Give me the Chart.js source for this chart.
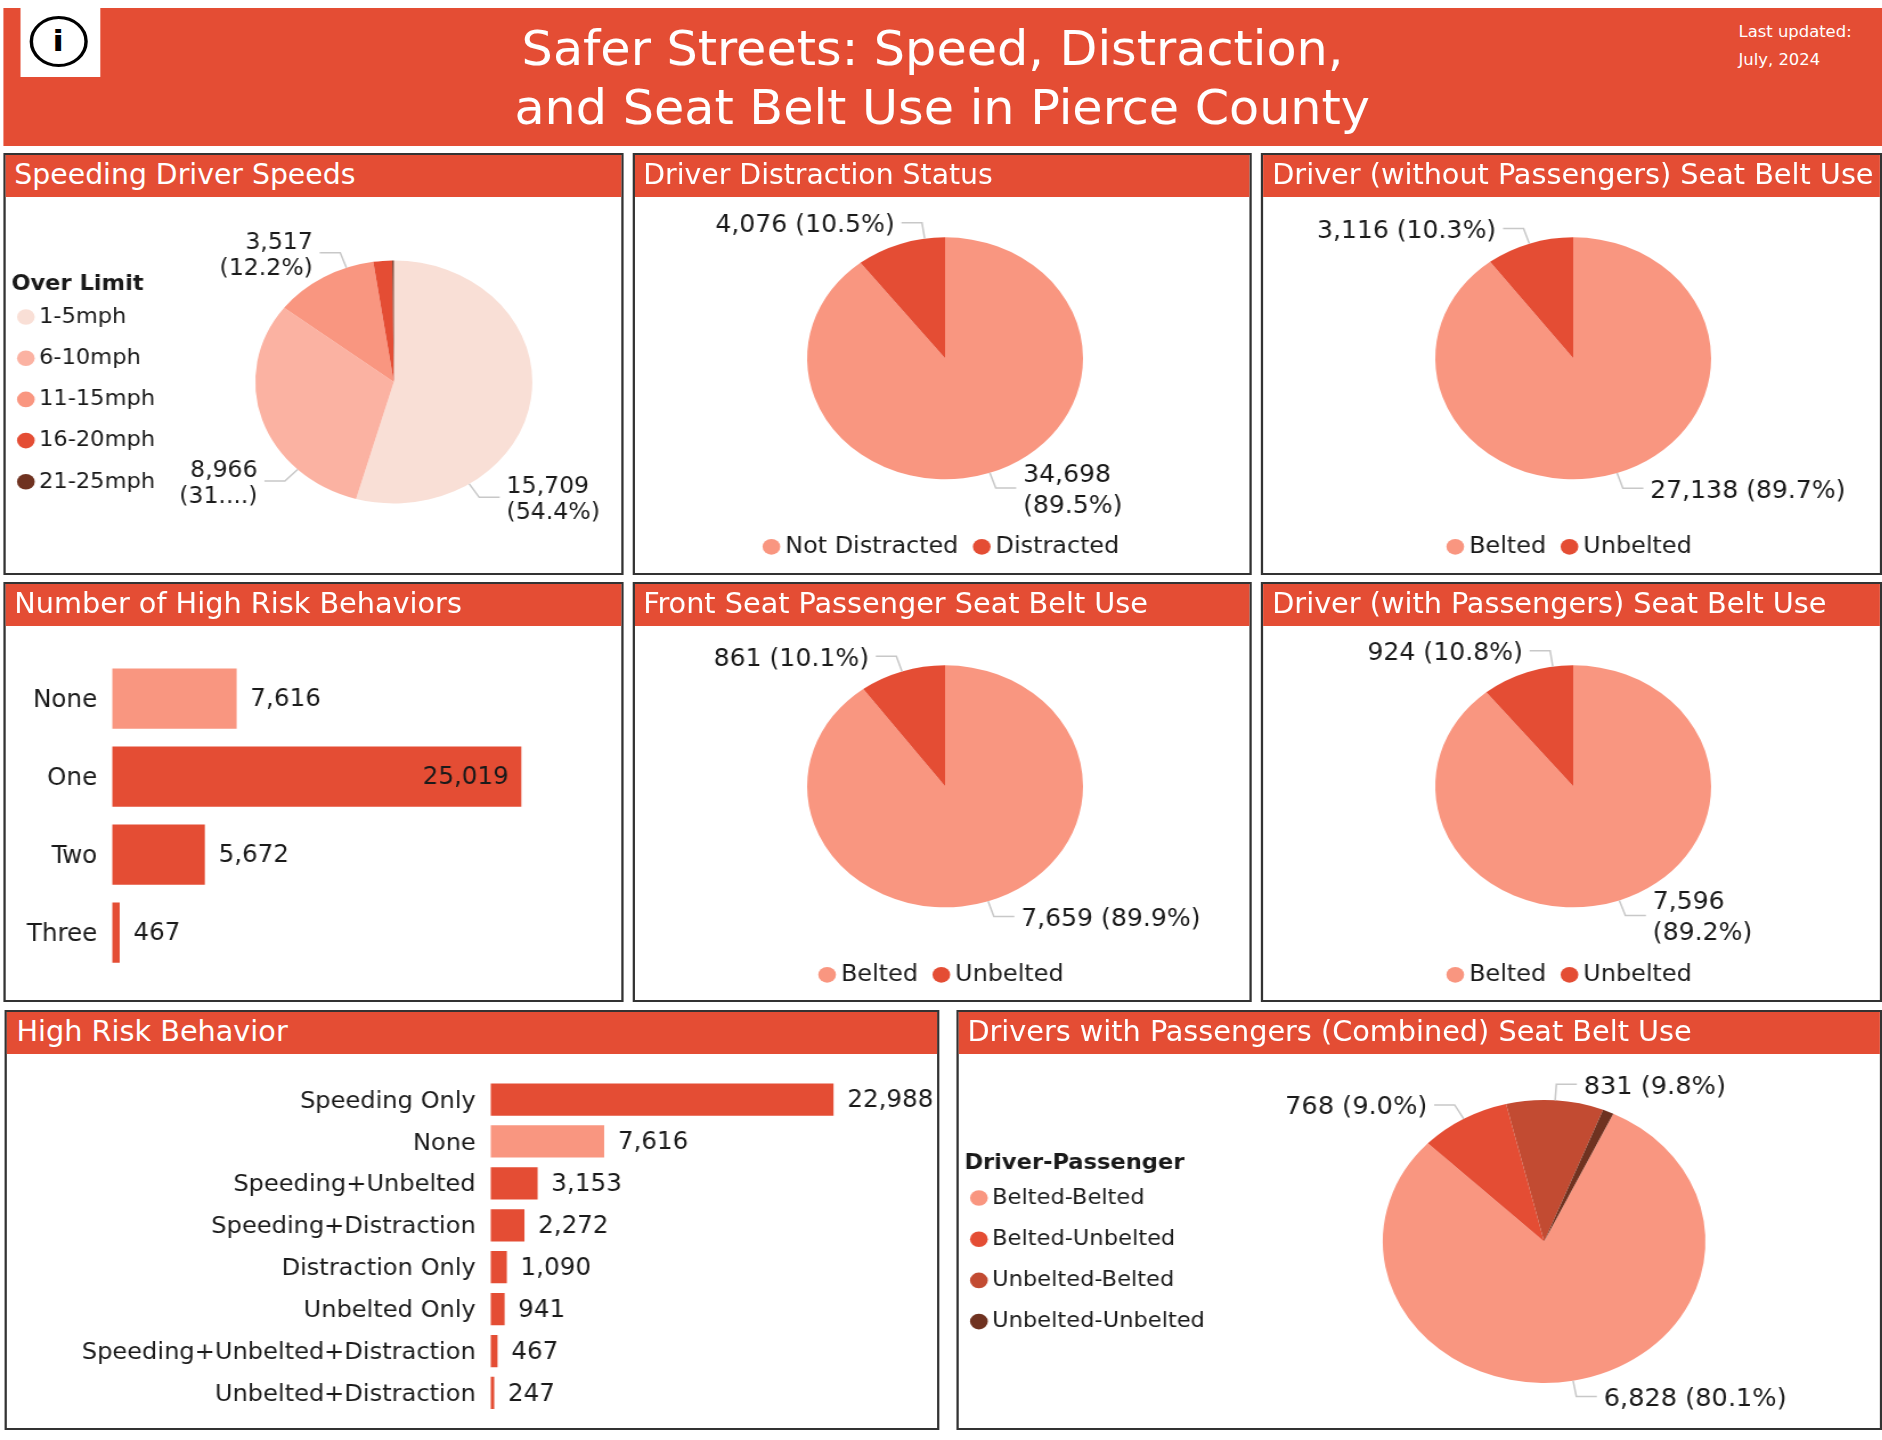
<!DOCTYPE html>
<html>
<head>
<meta charset="utf-8">
<title>Safer Streets</title>
<script src="https://cdn.jsdelivr.net/npm/chart.js@4"></script>
<style>
  html, body { margin: 0; padding: 0; background: #fff; overflow: hidden; }
  /* the original dashboard is stretched sideways, pies come out as ovals */
  #page {
    position: absolute; left: 0; top: 0; width: 1651px; height: 1440px;
    transform: scaleX(1.14); transform-origin: 0 0;
    font-family: "DejaVu Sans Condensed", "DejaVu Sans", sans-serif; color: #1a1a1a;
  }
  #banner { position: absolute; left: 2.6px; right: 0; top: 8px; height: 138px; background: #e44d34; }
  .title { position: absolute; left: 0; text-align: center; color: #fff; font-size: 48px; line-height: 60px; white-space: nowrap; }
  #line1 { top: 18px; width: 1636px; }
  #line2 { top: 77px; width: 1653px; }
  .updated { position: absolute; left: 1525px; color: #fff; font-size: 16px; line-height: 20px; white-space: nowrap; }
  #info { position: absolute; left: 17.5px; top: 8px; width: 70px; height: 69px; background: #fff; }
  #info div {
    position: absolute; left: 8px; top: 8px; width: 45px; height: 45px; border: 3.5px solid #000; border-radius: 50%;
    text-align: center; font: bold 29px/45px "DejaVu Sans", sans-serif; color: #000;
  }
  .panel { position: absolute; box-sizing: border-box; border: 2px solid #333; background: #fff; }
  .head {
    position: absolute; left: 0; right: 0; top: 0; height: 42px; background: #e44d34; color: #fff;
    font-size: 28px; line-height: 40px; padding-left: 8px; white-space: nowrap; overflow: hidden;
  }
  canvas { position: absolute; }
</style>
</head>
<body>
<div id="page">
  <div id="banner"></div>
  <div id="info"><div>i</div></div>
  <div class="title" id="line1">Safer Streets: Speed, Distraction,</div>
  <div class="title" id="line2">and Seat Belt Use in Pierce County</div>
  <div class="updated" style="top:22px">Last updated:</div>
  <div class="updated" style="top:50px">July, 2024</div>

  <div class="panel" style="left:2.6px;top:153px;width:544px;height:422px"><div class="head" style="font-size:27.6px">Speeding Driver Speeds</div></div>
  <div class="panel" style="left:555.3px;top:153px;width:543px;height:422px"><div class="head" style="font-size:27.6px;padding-left:7px">Driver Distraction Status</div></div>
  <div class="panel" style="left:1106px;top:153px;width:545px;height:422px"><div class="head">Driver (without Passengers) Seat Belt Use</div></div>
  <div class="panel" style="left:2.6px;top:582px;width:544px;height:420px"><div class="head">Number of High Risk Behaviors</div></div>
  <div class="panel" style="left:555.3px;top:582px;width:543px;height:420px"><div class="head" style="padding-left:7px">Front Seat Passenger Seat Belt Use</div></div>
  <div class="panel" style="left:1106px;top:582px;width:545px;height:420px"><div class="head">Driver (with Passengers) Seat Belt Use</div></div>
  <div class="panel" style="left:4.4px;top:1010px;width:820px;height:420px"><div class="head" style="line-height:39px">High Risk Behavior</div></div>
  <div class="panel" style="left:838.6px;top:1010px;width:812px;height:420px"><div class="head" style="line-height:39px">Drivers with Passengers (Combined) Seat Belt Use</div></div>

  <canvas id="speeds" style="left:3.3px;top:198px"></canvas>
  <canvas id="distraction" style="left:578.6px;top:192px"></canvas>
  <canvas id="noPassengers" style="left:1130.4px;top:192px"></canvas>
  <canvas id="riskCount" style="left:2.6px;top:626px"></canvas>
  <canvas id="frontSeat" style="left:578.6px;top:620px"></canvas>
  <canvas id="withPassengers" style="left:1130.4px;top:620px"></canvas>
  <canvas id="riskBehavior" style="left:4.4px;top:1048px"></canvas>
  <canvas id="combined" style="left:839px;top:1053px"></canvas>
</div>

<script>
// data
const speedCats = ['1-5mph', '6-10mph', '11-15mph', '16-20mph', '21-25mph'];
const speedVals = [15709, 8966, 3517, 635, 50];
const speedText = [['15,709', '(54.4%)'], ['8,966', '(31....)'], ['3,517', '(12.2%)'], null, null];

const distractCats = ['Not Distracted', 'Distracted'];
const distractVals = [34698, 4076];
const distractText = [['34,698', '(89.5%)'], ['4,076 (10.5%)']];

const beltCats = ['Belted', 'Unbelted'];
const noPassVals = [27138, 3116];
const noPassText = [['27,138 (89.7%)'], ['3,116 (10.3%)']];
const frontVals = [7659, 861];
const frontText = [['7,659 (89.9%)'], ['861 (10.1%)']];
const withPassVals = [7596, 924];
const withPassText = [['7,596', '(89.2%)'], ['924 (10.8%)']];

const comboCats = ['Belted-Belted', 'Belted-Unbelted', 'Unbelted-Belted', 'Unbelted-Unbelted'];
const comboVals = [6828, 768, 831, 93];
const comboText = [['6,828 (80.1%)'], ['768 (9.0%)'], ['831 (9.8%)'], null];

const riskCountCats = ['None', 'One', 'Two', 'Three'];
const riskCountVals = [7616, 25019, 5672, 467];

const riskCats = ['Speeding Only', 'None', 'Speeding+Unbelted', 'Speeding+Distraction', 'Distraction Only',
  'Unbelted Only', 'Speeding+Unbelted+Distraction', 'Unbelted+Distraction'];
const riskVals = [22988, 7616, 3153, 2272, 1090, 941, 467, 247];

const RED = '#e44d34';
const SALMON = '#f99680';
const FONT = '"DejaVu Sans Condensed", "DejaVu Sans", sans-serif';
const INK = '#1a1a1a';
const BAR_TEXT = 24;

Chart.defaults.font.family = FONT;
Chart.defaults.font.size = BAR_TEXT;
Chart.defaults.color = INK;
Chart.defaults.animation = false;
Chart.defaults.responsive = false;
Chart.defaults.events = [];
Chart.defaults.plugins.tooltip.enabled = false;

// outside labels with the little elbow line, hung on the arc elements
const pieLabels = {
  id: 'pieLabels',
  afterDraw(chart, args, opts) {
    const ctx = chart.ctx;
    const arcs = chart.getDatasetMeta(0).data;
    ctx.save();
    ctx.font = opts.size + 'px ' + FONT;
    ctx.textBaseline = 'middle';
    arcs.forEach((arc, i) => {
      const lines = opts.text[i];
      if (!lines) return;
      let a = (arc.startAngle + arc.endAngle) / 2;
      if (opts.angles && opts.angles[i] != null) a = (opts.angles[i] - 90) * Math.PI / 180;
      const r = arc.outerRadius;
      const cos = Math.cos(a), sin = Math.sin(a);
      const side = cos >= 0 ? 1 : -1;
      const ex = arc.x + cos * (r + 16), ey = arc.y + sin * (r + 16);
      ctx.strokeStyle = '#c8c8c8';
      ctx.lineWidth = 1.5;
      ctx.beginPath();
      ctx.moveTo(arc.x + cos * r, arc.y + sin * r);
      ctx.lineTo(ex, ey);
      ctx.lineTo(ex + side * 18, ey);
      ctx.stroke();
      ctx.fillStyle = INK;
      ctx.textAlign = side > 0 ? 'left' : 'right';
      lines.forEach((line, k) => {
        ctx.fillText(line, ex + side * 24, ey + 3 + (k - (lines.length - 1) / 2) * opts.lineGap);
      });
    });
    ctx.restore();
  }
};

// value next to each bar, or inside when the option says so
const barLabels = {
  id: 'barLabels',
  afterDraw(chart, args, opts) {
    const ctx = chart.ctx;
    const values = chart.data.datasets[0].data;
    ctx.save();
    ctx.font = BAR_TEXT + 'px ' + FONT;
    ctx.fillStyle = INK;
    ctx.textBaseline = 'middle';
    chart.getDatasetMeta(0).data.forEach((bar, i) => {
      const inside = opts.inside === i;
      ctx.textAlign = inside ? 'right' : 'left';
      ctx.fillText(values[i].toLocaleString('en-US'), bar.x + (inside ? -11 : 12), bar.y + 1.5);
    });
    ctx.restore();
  }
};

function pie(id, size, cats, vals, colors, radius, padding, text, extra) {
  const el = document.getElementById(id);
  el.width = size[0];
  el.height = size[1];
  extra = extra || {};
  const side = !!extra.legendTitle;
  const legendSize = side ? 22 : 23.3;
  return new Chart(el, {
    type: 'pie',
    data: { labels: cats, datasets: [{ data: vals, backgroundColor: colors, borderWidth: 0 }] },
    options: {
      radius: radius,
      rotation: extra.rotation || 0,
      layout: { padding: padding },
      plugins: {
        pieLabels: { text: text, angles: extra.angles, size: extra.labelSize || 24.5, lineGap: extra.lineGap || 31 },
        legend: {
          position: side ? 'left' : 'bottom',
          align: side ? 'start' : 'center',
          title: side ? {
            display: true, text: ' ' + extra.legendTitle, position: 'start', color: INK,
            font: { size: 22, weight: 'bold', lineHeight: 1 },
            padding: extra.titlePad
          } : { display: false },
          labels: {
            usePointStyle: true, pointStyle: 'circle', boxWidth: 1, boxHeight: 11, color: INK,
            padding: side ? 19.2 : 20,
            font: { size: legendSize }
          }
        }
      }
    },
    plugins: [pieLabels]
  });
}

function bars(id, size, cats, vals, colors, max, axisWidth, padding, tickSize, inside) {
  const el = document.getElementById(id);
  el.width = size[0];
  el.height = size[1];
  return new Chart(el, {
    type: 'bar',
    data: { labels: cats, datasets: [{ data: vals, backgroundColor: colors, categoryPercentage: 1, barPercentage: 0.77 }] },
    options: {
      indexAxis: 'y',
      layout: { padding: padding },
      scales: {
        x: { display: false, min: 0, max: max },
        y: {
          grid: { display: false, drawTicks: false },
          border: { display: false },
          ticks: { padding: 13, labelOffset: 2, color: INK, font: { size: tickSize } },
          afterFit(scale) { scale.width = axisWidth; }
        }
      },
      plugins: { legend: { display: false }, barLabels: { inside: inside } }
    },
    plugins: [barLabels]
  });
}

const beltColors = [SALMON, RED];
const bottomPad = { top: 9.5, bottom: 8.5 };

pie('speeds', [560, 377], speedCats, speedVals, ['#f9dfd6', '#fbb2a2', SALMON, RED, '#6f3220'], 121.5,
  { bottom: 9, right: 18.2 }, speedText,
  { legendTitle: 'Over Limit', titlePad: { top: 75.4, bottom: -8.6 }, angles: [147, 224, 340], labelSize: 23, lineGap: 26 });
pie('distraction', [500, 385], distractCats, distractVals, beltColors, 121, bottomPad, distractText, { angles: [null, 351.5] });
pie('noPassengers', [500, 385], beltCats, noPassVals, beltColors, 121, bottomPad, noPassText);
pie('frontSeat', [500, 385], beltCats, frontVals, beltColors, 121, bottomPad, frontText);
pie('withPassengers', [500, 385], beltCats, withPassVals, beltColors, 121, bottomPad, withPassText, { angles: [null, 351.5] });
pie('combined', [803, 377], comboCats, comboVals, [SALMON, RED, '#c24b32', '#6f3220'], 141.5,
  {}, comboText, { legendTitle: 'Driver-Passenger', titlePad: { top: 99, bottom: -6.2 }, rotation: 25.4, labelSize: 25 });

bars('riskCount', [544, 376], riskCountCats, riskCountVals, [SALMON, RED, RED, RED], 30000, 95.3,
  { top: 33.6, bottom: 30.4, right: 18.2 }, BAR_TEXT, 1);
bars('riskBehavior', [820, 393], riskCats, riskVals,
  [RED, SALMON, RED, RED, RED, RED, RED, RED], 26000, 426.3,
  { top: 30.6, right: 53.4 }, 23.5);
</script>
</body>
</html>
